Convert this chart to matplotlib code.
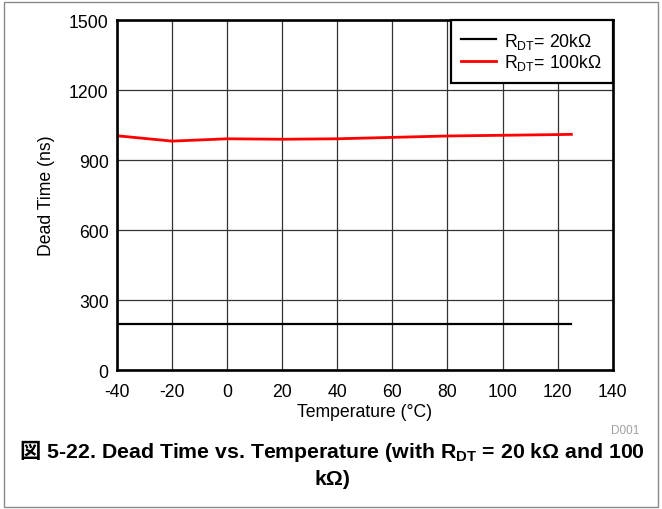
import matplotlib
matplotlib.use("Agg")
import matplotlib.pyplot as plt
from matplotlib.offsetbox import TextArea, HPacker, VPacker, AnnotationBbox
from matplotlib.patches import Rectangle

plt.rcParams['font.family'] = ['Liberation Sans', 'Noto Sans CJK JP', 'DejaVu Sans']
plt.rcParams['mathtext.fontset'] = 'custom'
plt.rcParams['mathtext.rm'] = 'Liberation Sans'
plt.rcParams['mathtext.it'] = 'Liberation Sans:italic'
plt.rcParams['mathtext.bf'] = 'Liberation Sans:bold'
plt.rcParams['mathtext.default'] = 'regular'
plt.rcParams['axes.unicode_minus'] = False

# data
temps = [-40, -20, 0, 20, 40, 60, 80, 100, 120, 125]
dt_20k = [197, 197, 197, 197, 197, 197, 197, 197, 197, 197]
dt_100k = [1004, 981, 991, 989, 991, 997, 1003, 1006, 1009, 1010]
x_ticks = [-40, -20, 0, 20, 40, 60, 80, 100, 120, 140]
y_ticks = [0, 300, 600, 900, 1200, 1500]

fs = 12.7

fig = plt.figure(figsize=(6.62, 5.10), dpi=100)
ax = fig.add_axes([0.1767, 0.2725, 0.7488, 0.6863])

ax.plot(temps, dt_20k, color='black', lw=1.6, label=r'R$_{DT}$= 20k$\Omega$')
ax.plot(temps, dt_100k, color='#ff0000', lw=2.0, label=r'R$_{DT}$= 100k$\Omega$')

ax.set_xlim(-40, 140)
ax.set_ylim(0, 1500)
ax.set_xticks(x_ticks)
ax.set_yticks(y_ticks)
ax.tick_params(length=0, labelsize=fs)
ax.tick_params(axis='x', pad=9.5)
ax.tick_params(axis='y', pad=6)
ax.grid(True, color='#333333', lw=0.9)
ax.set_axisbelow(True)
for s in ax.spines.values():
    s.set_linewidth(1.9)

ax.set_xlabel('Temperature (°C)', fontsize=fs, labelpad=2)
ax.set_ylabel('Dead Time (ns)', fontsize=fs, labelpad=10)

leg = ax.legend(loc='upper right', borderaxespad=0, fancybox=False,
                fontsize=fs, handlelength=2.0, labelspacing=0.1,
                borderpad=0.6, handletextpad=0.45)
leg.get_frame().set_edgecolor('black')
leg.get_frame().set_linewidth(1.6)
leg.get_frame().set_alpha(1)

fig.text(625 / 662, 1 - 431 / 510, 'D001', fontsize=8.5, color='#a0a0a0',
         ha='center', va='center')

# caption
cap_kw = dict(fontsize=15.3, fontweight='bold', color='black')
part_cjk = TextArea('図', textprops=dict(family='Noto Sans CJK JP', **cap_kw))
part_rest = TextArea(r' 5-22. Dead Time vs. Temperature (with R$_{\mathbf{DT}}$ = 20 kΩ and 100',
                     textprops=dict(family='Liberation Sans', **cap_kw))
line1 = HPacker(children=[part_cjk, part_rest], align='baseline', pad=0, sep=0)
line2 = TextArea('kΩ)', textprops=dict(family='Liberation Sans', **cap_kw))
caption = VPacker(children=[line1, line2], align='center', pad=0, sep=5)
ab = AnnotationBbox(caption, (332 / 662, 1 - 465 / 510), xycoords='figure fraction',
                    frameon=False, box_alignment=(0.5, 0.5))
fig.add_artist(ab)

fig.add_artist(Rectangle((4 / 662, 2 / 510), 654 / 662, 505 / 510,
                         transform=fig.transFigure, fill=False,
                         edgecolor='#8a8a8a', lw=1.0))

fig.savefig('out.png', dpi=100)
